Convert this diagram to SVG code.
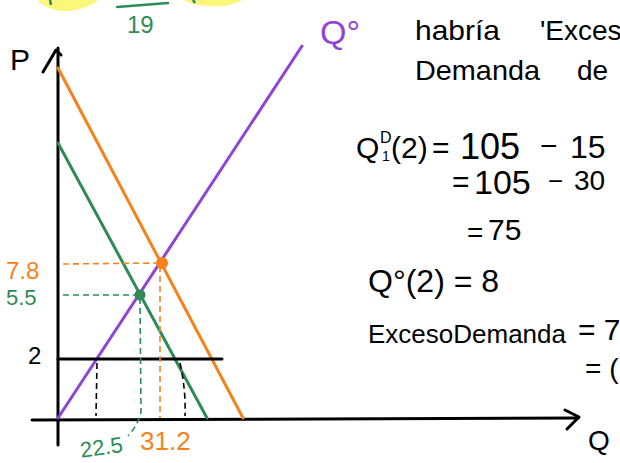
<svg xmlns="http://www.w3.org/2000/svg" width="620" height="463" viewBox="0 0 620 463">
<style>
.ax{stroke:#000;stroke-width:3;fill:none;stroke-linecap:round;stroke-linejoin:round}
.ln{stroke-width:3;fill:none;stroke-linecap:round}
.dsh{stroke-width:1.6;fill:none;stroke-dasharray:6 4}
.t{font-family:"Liberation Sans","DejaVu Sans",sans-serif;fill:#000}
.hw{font-size:28px}
.o{fill:#f7821b}
.g{fill:#2e8b57}
.p{fill:#8e44d6}
</style>
<rect width="620" height="463" fill="#fff"/>
<g id="top-scribble">
<path d="M38,0 Q48,12 70,11 Q90,8 98,0 Z" fill="#fbf77a"/>
<path d="M183,0 Q200,8 225,6 Q238,3 242,0 Z" fill="#fbf77a"/>
<path d="M50,0 L51,5" stroke="#2e8b57" stroke-width="2.5"/>
<path d="M117,7 L168,3" stroke="#2e8b57" stroke-width="2.5" stroke-linecap="round"/>
<path d="M193,0 L195,3" stroke="#2e8b57" stroke-width="2.5"/>
<text class="t g" x="127" y="33" font-size="24">19</text>
</g>
<g id="axes">
<path class="ax" d="M58,445 L58,48"/>
<path class="ax" d="M43,72 L56,50 L61,55"/>
<path class="ax" d="M32,420 L578,418"/>
<path class="ax" d="M565,410 L579,417 L567,429"/>
<text class="t" x="10" y="70" font-size="30">P</text>
<text class="t" x="588" y="450" font-size="28">Q</text>
</g>
<g id="connectors">
<path class="ln" stroke="#f7821b" d="M58,68 L243,418"/>
<path class="ln" stroke="#2e8b57" d="M58,143 L207,418"/>
<path class="ln" stroke="#8e44d6" d="M58,418 L302,46"/>
<path class="ax" d="M58,359 L222,359"/>
<path class="dsh" stroke="#f7821b" d="M63,264 L160,263 M160,266 L160,418"/>
<path class="dsh" stroke="#2e8b57" d="M63,295 L138,295 M140,298 L141,412 Q138,425 128,436"/>
<path class="dsh" stroke="#000" d="M97,363 L96,416 M180,363 Q186,390 185,416"/>
</g>
<g id="eq-orange"><circle cx="162" cy="263" r="6" fill="#f7821b"/></g>
<g id="eq-green"><circle cx="140" cy="295" r="5.5" fill="#2e8b57"/></g>
<g id="axis-labels">
<text class="t o" x="6" y="279" font-size="24">7.8</text>
<text class="t g" x="6" y="305" font-size="22">5.5</text>
<text class="t" x="28" y="364" font-size="24">2</text>
<text class="t g" x="80" y="455" font-size="22" transform="rotate(-8 100 447)">22.5</text>
<text class="t o" x="140" y="450" font-size="26">31.2</text>
</g>
<g id="notes">
<text class="t p" x="320" y="44" font-size="34">Q°</text>
<text class="t hw" x="415" y="40" textLength="85" lengthAdjust="spacingAndGlyphs">habría</text>
<text class="t hw" x="540" y="40">'Exces</text>
<text class="t hw" x="415" y="80" textLength="125" lengthAdjust="spacingAndGlyphs">Demanda</text>
<text class="t hw" x="577" y="80">de</text>
<text class="t" x="356" y="158" font-size="30">Q</text>
<text class="t" x="380" y="143" font-size="16">D</text>
<text class="t" x="382" y="161" font-size="14">1</text>
<text class="t" x="391" y="158" font-size="30">(2)</text>
<text class="t" x="432" y="158" font-size="30">=</text>
<text class="t" x="460" y="159" font-size="36">105</text>
<text class="t" x="540" y="156" font-size="30">−</text>
<text class="t" x="570" y="158" font-size="32">15</text>
<text class="t" x="452" y="192" font-size="30">=</text>
<text class="t" x="474" y="194" font-size="34">105</text>
<text class="t" x="548" y="190" font-size="26">−</text>
<text class="t" x="574" y="190" font-size="28">30</text>
<text class="t" x="467" y="242" font-size="28">=</text>
<text class="t" x="488" y="240" font-size="30">75</text>
<text class="t" x="368" y="292" font-size="32">Q°(2) = 8</text>
<text class="t" x="368" y="343" font-size="26">ExcesoDemanda</text>
<text class="t" x="578" y="340" font-size="30">= 7</text>
<text class="t" x="585" y="378" font-size="28">= (</text>
</g>
</svg>
